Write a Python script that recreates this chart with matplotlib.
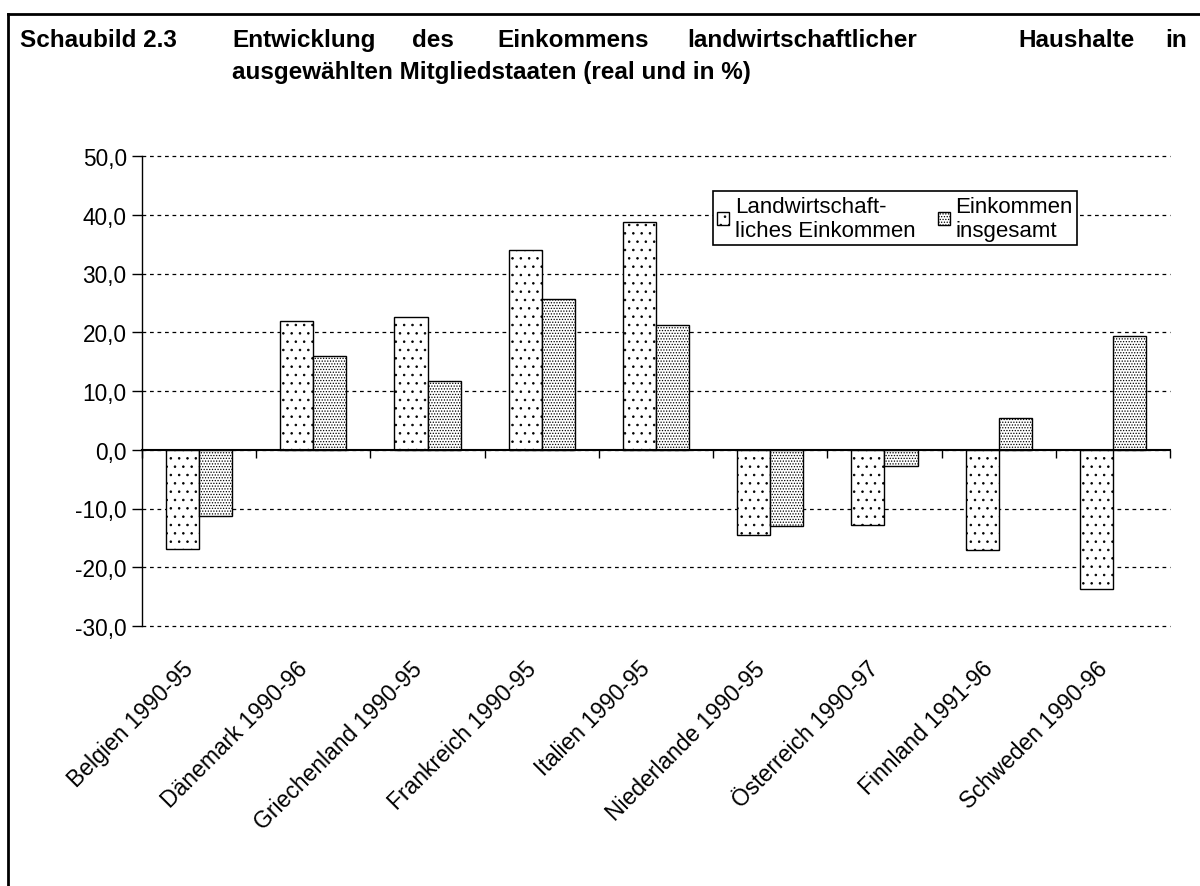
import matplotlib
matplotlib.use("Agg")
import matplotlib.pyplot as plt
import matplotlib.transforms as mtransforms
import numpy as np

categories = ["Belgien 1990-95", "Dänemark 1990-96", "Griechenland 1990-95",
              "Frankreich 1990-95", "Italien 1990-95", "Niederlande 1990-95",
              "Österreich 1990-97", "Finnland 1991-96", "Schweden 1990-96"]
landw = [-16.9, 22.0, 22.6, 34.0, 38.7, -14.5, -12.8, -17.0, -23.7]
gesamt = [-11.3, 16.0, 11.7, 25.6, 21.2, -12.9, -2.7, 5.4, 19.4]
series_labels = ["Landwirtschaft-\nliches Einkommen", "Einkommen\ninsgesamt"]
yticks = [50, 40, 30, 20, 10, 0, -10, -20, -30]

plt.rcParams['font.family'] = ['Liberation Sans', 'DejaVu Sans']
plt.rcParams['hatch.linewidth'] = 0.6

fig = plt.figure(figsize=(12, 8.87), dpi=100)
ax = fig.add_axes([142/1200, 1-627/887, 1028/1200, 470/887])

x = np.arange(len(categories))
w = 0.29
b1 = ax.bar(x - w/2, landw, w, facecolor='white', edgecolor='black', hatch='..', linewidth=1.0,
            label=series_labels[0], zorder=3)
b2 = ax.bar(x + w/2, gesamt, w, facecolor='white', edgecolor='black', hatch='......', linewidth=1.0,
            label=series_labels[1], zorder=3)

ax.set_xlim(-0.5, len(categories) - 0.5)
ax.set_ylim(-30, 50)
ax.set_yticks(yticks)
ax.set_yticklabels([f"{v:.1f}".replace('.', ',') for v in yticks], fontsize=16.3)
ax.yaxis.grid(True, linestyle=(0, (3, 3)), color='black', linewidth=0.9)
for gl in ax.get_ygridlines():
    gl.set_clip_on(False)
ax.set_axisbelow(True)
for s in ['top', 'right']:
    ax.spines[s].set_visible(False)
ax.spines['left'].set_linewidth(1.0)
ax.spines['bottom'].set_position(('data', 0))
ax.spines['bottom'].set_linewidth(1.5)
ax.spines['bottom'].set_zorder(4)
ax.tick_params(axis='y', direction='out', length=7, width=1, pad=4)
ax.set_xticks(np.arange(-0.5, len(categories)))
ax.set_xticklabels([])
ax.tick_params(axis='x', direction='out', length=6, width=1)

trans = mtransforms.blended_transform_factory(ax.transData, ax.transAxes)
for i, c in enumerate(categories):
    ax.text(i - 0.15, -0.065, c, transform=trans, rotation=45, ha='right', va='top',
            rotation_mode='anchor', fontsize=16.5)

leg = ax.legend(loc='upper left', bbox_to_anchor=(0.555, 0.925), ncol=2, fontsize=16,
                frameon=True, fancybox=False, edgecolor='black', framealpha=1,
                handlelength=0.55, handleheight=0.55, handletextpad=0.25, columnspacing=1.0,
                borderpad=0.2, borderaxespad=0, labelspacing=0.1)
leg.get_frame().set_linewidth(1.2)
leg.set_zorder(5)

# Title
fs = 17.5
fig.text(20/1200, 1-47/887, "Schaubild 2.3", fontsize=fs, fontweight='bold', va='baseline')
words = [("Entwicklung", 232), ("des", 412), ("Einkommens", 497),
         ("landwirtschaftlicher", 687), ("Haushalte", 1018), ("in", 1165)]
for wd, px in words:
    fig.text(px/1200, 1-47/887, wd, fontsize=fs, fontweight='bold', va='baseline')
fig.text(232/1200, 1-79/887, "ausgewählten Mitgliedstaaten (real und in %)",
         fontsize=fs, fontweight='bold', va='baseline')

# Frame lines
fig.add_artist(plt.Line2D([8/1200, 1], [1-15/887, 1-15/887], color='black', linewidth=2))
fig.add_artist(plt.Line2D([8/1200, 8/1200], [0, 1-15/887], color='black', linewidth=2))

fig.savefig("out.png", dpi=100)
